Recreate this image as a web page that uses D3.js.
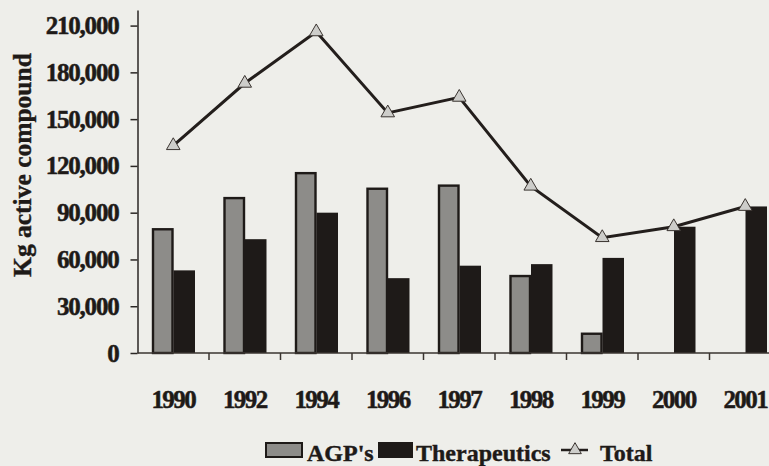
<!DOCTYPE html>
<html>
<head>
<meta charset="utf-8">
<script src="https://cdn.jsdelivr.net/npm/d3@7"></script>
<style>
  body { margin: 0; background: #eeeeea; }
  svg { display: block; }
</style>
</head>
<body>
<script>
// chart data
const years = ["1990", "1992", "1994", "1996", "1997", "1998", "1999", "2000", "2001"];
const agps = [80000, 100000, 116000, 106000, 108000, 50000, 13000, 0, 0];
const therapeutics = [53000, 73000, 90000, 48000, 56000, 57000, 61000, 81000, 94000];
const totals = [133000, 173000, 206000, 154000, 164000, 107000, 74000, 81000, 94000];
const yTicks = [0, 30000, 60000, 90000, 120000, 150000, 180000, 210000];
const seriesNames = ["AGP's", "Therapeutics", "Total"];

const w = 769;
const h = 466;
const axisX = 137.5;
const axisY = 353;

const ink = "#1e1a18";
const grey = "#8d8c89";
const serif = "'Liberation Serif', 'Times New Roman', Times, 'DejaVu Serif', serif";

const svg = d3.select("body").append("svg").attr("width", w).attr("height", h)
  .style("font-family", serif).style("font-weight", "bold");

const x = d3.scaleBand().domain(years).range([axisX, axisX + 71.5 * years.length]);
const inner = d3.scaleBand().domain([0, 1]).range([14.5, 57.5]);
const y = d3.scaleLinear().domain([0, 220000]).range([axisY, 10]);

// bars
const rows = years.map((yr, i) => ({ year: yr, vals: [agps[i], therapeutics[i]] }));
const groups = svg.selectAll("g.year").data(rows).enter().append("g")
  .attr("class", "year")
  .attr("transform", (d) => `translate(${x(d.year)},0)`);

groups.selectAll("rect").data((d) => d.vals.map((v, k) => ({ v, k })).filter((e) => e.v > 0))
  .enter().append("rect")
  .attr("x", (d) => inner(d.k) + (d.k === 0 ? 1 : 0))
  .attr("width", (d) => inner.bandwidth() - (d.k === 0 ? 2 : 0))
  .attr("y", (d) => y(d.v) + (d.k === 0 ? 1 : 0))
  .attr("height", (d) => axisY - y(d.v) - (d.k === 0 ? 1 : 0))
  .attr("fill", (d) => d.k === 0 ? grey : ink)
  .attr("stroke", ink)
  .attr("stroke-width", (d) => d.k === 0 ? 2.4 : 0);

// y axis
svg.append("g")
  .attr("transform", `translate(${axisX},0)`)
  .call(d3.axisLeft(y).tickValues(yTicks).tickSize(7).tickSizeOuter(0).tickPadding(12)
    .tickFormat(d3.format(",")))
  .call((g) => g.attr("font-family", null).attr("font-size", null))
  .call((g) => g.select(".domain").attr("stroke", "#2a2624").attr("stroke-width", 1.5))
  .call((g) => g.selectAll(".tick line").attr("stroke", "#2a2624").attr("stroke-width", 1.5))
  .call((g) => g.selectAll(".tick text")
    .style("font-size", "25px").attr("letter-spacing", -1.2)
    .attr("fill", ink).attr("stroke", ink).attr("stroke-width", 0.5));

// x axis
svg.append("line")
  .attr("x1", axisX).attr("x2", w).attr("y1", axisY).attr("y2", axisY)
  .attr("stroke", "#3a3430").attr("stroke-width", 1.5);
svg.selectAll("line.xtick").data(years.slice(1)).enter().append("line")
  .attr("class", "xtick")
  .attr("x1", (d) => x(d)).attr("x2", (d) => x(d))
  .attr("y1", axisY).attr("y2", axisY + 7)
  .attr("stroke", "#3a3430").attr("stroke-width", 1.5);
svg.selectAll("text.year").data(years).enter().append("text")
  .attr("class", "year")
  .attr("x", (d) => x(d) + x.bandwidth() / 2)
  .attr("y", 408)
  .attr("text-anchor", "middle")
  .style("font-size", "25px")
  .attr("letter-spacing", -1.6)
  .attr("fill", ink).attr("stroke", ink).attr("stroke-width", 0.5)
  .text((d) => d);

// y title
svg.append("text")
  .attr("transform", "translate(31,165) rotate(-90)")
  .attr("text-anchor", "middle")
  .style("font-size", "25.5px")
  .attr("fill", ink).attr("stroke", ink).attr("stroke-width", 0.4)
  .text("Kg active compound");

// total line
const cx = (i) => x(years[i]) + x.bandwidth() / 2;
svg.append("path")
  .datum(totals)
  .attr("fill", "none")
  .attr("stroke", "#231e1c")
  .attr("stroke-width", 3)
  .attr("d", d3.line().x((d, i) => cx(i)).y((d) => y(d)));

const tri = d3.symbol().type(d3.symbolTriangle).size(80);
svg.selectAll("path.tri").data(totals).enter().append("path")
  .attr("class", "tri")
  .attr("transform", (d, i) => `translate(${cx(i)},${y(d)})`)
  .attr("d", tri)
  .attr("fill", "#cdcdca")
  .attr("stroke", "#3a3430")
  .attr("stroke-width", 1);

// legend
const legend = svg.append("g").style("font-size", "24px")
  .attr("fill", ink).attr("stroke", ink).attr("stroke-width", 0.4);
legend.append("rect").attr("x", 266).attr("y", 443).attr("width", 36).attr("height", 14)
  .attr("fill", grey).attr("stroke", ink).attr("stroke-width", 2);
legend.append("text").attr("x", 307).attr("y", 461).text(seriesNames[0]);
legend.append("rect").attr("x", 378).attr("y", 442).attr("width", 35).attr("height", 16)
  .attr("fill", ink).attr("stroke", "none");
legend.append("text").attr("x", 416).attr("y", 461).text(seriesNames[1]);
legend.append("line").attr("x1", 561).attr("x2", 588).attr("y1", 450).attr("y2", 450)
  .attr("stroke", "#231e1c").attr("stroke-width", 2.5);
legend.append("path").attr("transform", "translate(575,450)")
  .attr("d", d3.symbol().type(d3.symbolTriangle).size(70))
  .attr("fill", "#cdcdca").attr("stroke", "#3a3430").attr("stroke-width", 1);
legend.append("text").attr("x", 600).attr("y", 461).text(seriesNames[2]);
</script>
</body>
</html>
